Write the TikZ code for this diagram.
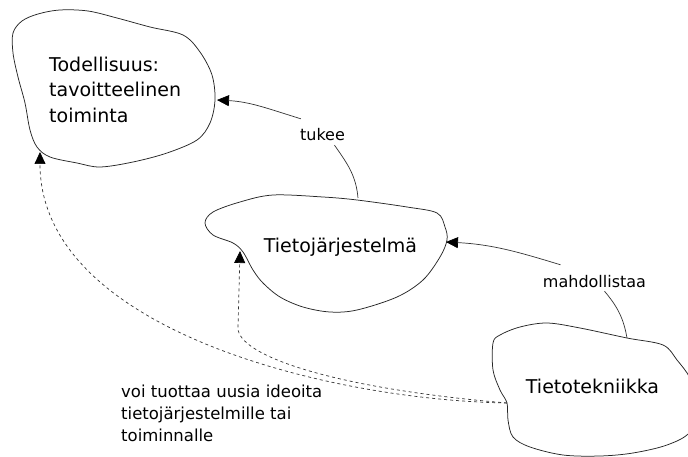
\documentclass[tikz,border=0pt]{standalone}
\usepackage{fontspec}
\setmainfont{DejaVu Sans}
\usetikzlibrary{arrows.meta}

\tikzset{
  blob/.style={draw=black!85, line width=0.75pt},
  link/.style={draw=black!80, line width=0.7pt, -{Triangle[length=12pt,width=11pt,color=black]}},
  hint/.style={link, dash pattern=on 3pt off 3pt},
  plain/.style={draw=black!80, line width=0.7pt},
  bigtext/.style={font=\fontsize{19}{25.5}\selectfont, inner sep=0pt},
  edgetext/.style={font=\fontsize{16}{20}\selectfont, inner sep=4pt, text height=18pt, text depth=0pt},
  notetext/.style={font=\fontsize{16.5}{22}\selectfont, inner sep=0pt, align=left}
}

\begin{document}
\begin{tikzpicture}[x=1pt, y=1pt]
  \useasboundingbox (0,0) rectangle (688,-457);
  \clip (0,0) rectangle (688,-457);

  % cloud outlines
  \draw[blob] plot[smooth cycle, tension=0.55] coordinates {
    (13,-33) (22,-21) (38,-14) (60,-10) (88,-11) (117,-18) (150,-27) (183,-35)
    (200,-52) (212,-75) (215,-100) (210,-123) (197,-140) (167,-153) (133,-162)
    (100,-167) (77,-163) (50,-157) (37,-147) (30,-130) (25,-103) (18,-77) (13,-53)};
  \draw[blob] plot[smooth cycle, tension=0.55] coordinates {
    (205,-223) (213,-212) (240,-202) (273,-195) (323,-197) (357,-200) (407,-207)
    (437,-213) (445,-227) (447,-240) (440,-257) (423,-280) (397,-297) (357,-310)
    (330,-312) (303,-307) (280,-297) (263,-283) (253,-270) (243,-252) (233,-243) (213,-235)};
  \draw[blob] plot[smooth cycle, tension=0.55] coordinates {
    (493,-343) (500,-335) (520,-327) (547,-323) (580,-328) (627,-338) (663,-345)
    (677,-360) (690,-378) (700,-405) (690,-432) (667,-445) (633,-453) (600,-456)
    (563,-455) (530,-447) (513,-437) (508,-420) (507,-403) (500,-390) (493,-370)};

  % anchor points on the cloud outlines
  \coordinate (realE)  at (217,-100);
  \coordinate (realSW) at (40,-152);
  \coordinate (sysN)   at (358,-198);
  \coordinate (sysE)   at (446,-242);
  \coordinate (sysSW)  at (240,-251);
  \coordinate (techN)  at (627,-338);
  \coordinate (techW)  at (507,-403);

  % texts inside the clouds
  \node[bigtext, align=left, anchor=north west] (real) at (49,-56.6)
    {Todellisuus:\\tavoitteelinen\\toiminta};
  \node[bigtext, anchor=base] (sys) at (340.5,-252) {Tietojärjestelmä};
  \node[bigtext, anchor=base] (tech) at (592.5,-393) {Tietotekniikka};

  % connector labels
  \node[edgetext, anchor=base] (tukee) at (322.5,-141) {tukee};
  \node[edgetext, anchor=base] (mahd) at (594.5,-287) {mahdollistaa};
  \node[notetext, anchor=north west] (note) at (121,-384.5)
    {voi tuottaa uusia ideoita\\tietojärjestelmille tai\\toiminnalle};

  % solid connectors
  \draw[plain] (sysN) to[out=95, in=-55] ([xshift=12pt]tukee.south);
  \draw[link] ([xshift=5pt]tukee.north west) to[out=163, in=-3] (realE);
  \draw[plain] (techN) to[out=100, in=-50] ([xshift=10pt]mahd.south);
  \draw[link] ([xshift=-34pt]mahd.north) to[out=163, in=-3] (sysE);

  % dashed connectors
  \draw[hint] (techW) .. controls (330,-400) and (40,-330) .. (realSW);
  \draw[hint] (techW) .. controls (330,-388) and (238,-355) .. (238,-328) -- (sysSW);
\end{tikzpicture}
\end{document}
